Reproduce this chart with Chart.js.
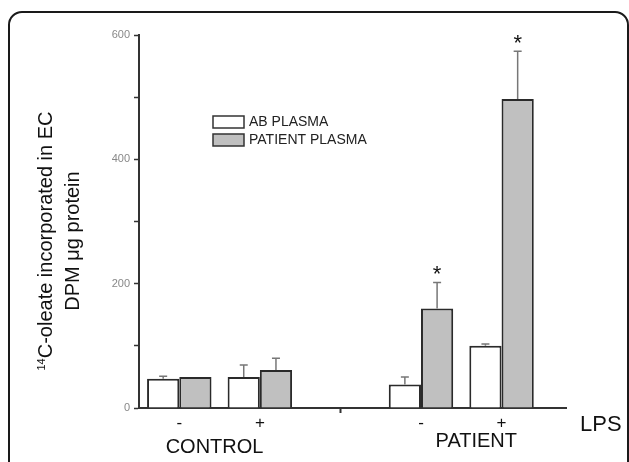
<!DOCTYPE html>
<html>
<head>
<meta charset="utf-8">
<script src="https://cdn.jsdelivr.net/npm/chart.js@4.4.1/dist/chart.umd.min.js"></script>
<style>
  html, body { margin: 0; padding: 0; background: #fff; overflow: hidden; }
  #wrap { position: relative; width: 629px; height: 462px; }
  #frame { position: absolute; left: 8px; top: 11px; width: 621px; height: 520px; box-sizing: border-box;
           border: 2px solid #1a1a1a; border-radius: 14px 14px 0 0; }
  #chart { position: absolute; left: 0; top: 0; }
</style>
</head>
<body>
<div id="wrap">
  <div id="frame"></div>
  <canvas id="chart" width="629" height="462"></canvas>
</div>
<script>
// LPS -/+ under each bar pair; "" is the empty slot between CONTROL and PATIENT
const lpsLabels = ["-", "+", "", "-", "+"];
const groupNames = ["CONTROL", "PATIENT"];
const abPlasma = [47, 50, null, 38, 100];
const abPlasmaErr = [4, 19, null, 12, 3];
const patientPlasma = [50, 61, null, 160, 497];
const patientPlasmaErr = [0, 19, null, 42, 77];
const patientSignificant = [false, false, false, true, true];

const FONT = '"Liberation Sans", Arial, sans-serif';

// bars sit at x = 1..5 on a linear axis, the gap slot is skipped
function toPoints(values) {
  return values.map((v, i) => ({ x: i + 1, y: v, i })).filter((p) => p.y !== null);
}

const extras = {
  id: "extras",
  afterDatasetsDraw(chart) {
    const { ctx, scales: { y } } = chart;
    ctx.save();
    chart.data.datasets.forEach((ds, d) => {
      const meta = chart.getDatasetMeta(d);
      meta.data.forEach((bar, j) => {
        const p = ds.data[j];
        const err = ds.errors[p.i];
        const top = y.getPixelForValue(p.y + err);
        if (err > 0) {
          // upper half of the error bar only
          ctx.strokeStyle = "#777";
          ctx.lineWidth = 1.5;
          ctx.beginPath();
          ctx.moveTo(bar.x, bar.y);
          ctx.lineTo(bar.x, top);
          ctx.moveTo(bar.x - 4, top);
          ctx.lineTo(bar.x + 4, top);
          ctx.stroke();
        }
        if (ds.stars && ds.stars[p.i]) {
          ctx.fillStyle = "#111";
          ctx.font = "22px " + FONT;
          ctx.textAlign = "center";
          ctx.textBaseline = "alphabetic";
          ctx.fillText("*", bar.x, top - 1);
        }
      });
    });
    ctx.restore();
  },
  afterDraw(chart) {
    const { ctx, scales: { x }, chartArea } = chart;
    ctx.save();

    // legend inside the plot
    chart.data.datasets.forEach((ds, k) => {
      const bx = chartArea.left + 74;
      const by = chartArea.top + 81 + k * 18;
      ctx.fillStyle = ds.backgroundColor;
      ctx.fillRect(bx, by, 31, 12);
      ctx.strokeStyle = "#333";
      ctx.lineWidth = 1.5;
      ctx.strokeRect(bx, by, 31, 12);
      ctx.fillStyle = "#222";
      ctx.font = "14px " + FONT;
      ctx.textAlign = "left";
      ctx.textBaseline = "middle";
      ctx.fillText(ds.label, bx + 36, by + 6.5);
    });

    // y title, two lines, with a superscript 14
    ctx.save();
    ctx.translate(45, 241);
    ctx.rotate(-Math.PI / 2);
    ctx.fillStyle = "#111";
    ctx.textBaseline = "alphabetic";
    const main = "C-oleate incorporated in EC";
    ctx.font = "20px " + FONT;
    const wMain = ctx.measureText(main).width;
    ctx.font = "11px " + FONT;
    const wSup = ctx.measureText("14").width;
    const sx = -(wMain + wSup) / 2;
    ctx.textAlign = "left";
    ctx.fillText("14", sx, 0);
    ctx.font = "20px " + FONT;
    ctx.fillText(main, sx + wSup, 7);
    ctx.textAlign = "center";
    ctx.fillText("DPM \u03bcg protein", 0, 34);
    ctx.restore();

    // group names under the LPS signs
    ctx.fillStyle = "#111";
    ctx.font = "20px " + FONT;
    ctx.textAlign = "center";
    ctx.textBaseline = "middle";
    const nudges = [[-5, 447], [15, 441]];
    let g = 0, start = 0;
    lpsLabels.concat([""]).forEach((lab, i) => {
      if (lab === "") {
        if (i > start) {
          const cx = (x.getPixelForValue(start + 1) + x.getPixelForValue(i)) / 2;
          ctx.fillText(groupNames[g], cx + nudges[g][0], nudges[g][1]);
          g++;
        }
        start = i + 1;
      }
    });

    ctx.font = "22px " + FONT;
    ctx.textAlign = "left";
    ctx.fillText("LPS", chartArea.right + 14, 425);
    ctx.restore();
  },
};

new Chart(document.getElementById("chart"), {
  type: "bar",
  data: {
    datasets: [
      {
        label: "AB PLASMA",
        data: toPoints(abPlasma),
        errors: abPlasmaErr,
        backgroundColor: "#ffffff",
        borderColor: "#2a2a2a",
        borderWidth: 2,
        categoryPercentage: 0.8,
        barPercentage: 1.0,
      },
      {
        label: "PATIENT PLASMA",
        data: toPoints(patientPlasma),
        errors: patientPlasmaErr,
        stars: patientSignificant,
        backgroundColor: "#c0c0c0",
        borderColor: "#2a2a2a",
        borderWidth: 2,
        categoryPercentage: 0.8,
        barPercentage: 1.0,
      },
    ],
  },
  options: {
    responsive: false,
    animation: false,
    layout: { padding: { top: 35, right: 63, left: 0, bottom: 0 } },
    plugins: { legend: { display: false }, tooltip: { enabled: false } },
    scales: {
      x: {
        type: "linear",
        offset: false,
        min: 0.5,
        max: 5.8,
        afterBuildTicks: (s) => {
          s.ticks = lpsLabels.map((_, i) => ({ value: i + 1 }));
        },
        afterFit: (s) => {
          s.height = 54;
        },
        ticks: {
          callback: (v) => lpsLabels[v - 1],
          font: { size: 17, family: FONT },
          color: "#111",
          padding: 0,
          autoSkip: false,
          maxRotation: 0,
        },
        grid: {
          offset: false,
          drawOnChartArea: false,
          tickLength: 5,
          tickWidth: 2,
          tickColor: (c) => (c.tick && lpsLabels[c.tick.value - 1] === "" ? "#333" : "rgba(0,0,0,0)"),
        },
        border: { color: "#333", width: 2 },
      },
      y: {
        min: 0,
        max: 600,
        afterFit: (s) => {
          s.width = 139;
        },
        ticks: {
          stepSize: 100,
          callback: (v) => (v % 200 === 0 ? v : ""),
          font: { size: 11, family: FONT },
          color: "#888",
          padding: 4,
        },
        grid: { drawOnChartArea: false, tickLength: 5, tickWidth: 1.5, tickColor: "#333" },
        border: { color: "#333", width: 2 },
      },
    },
  },
  plugins: [extras],
});
</script>
</body>
</html>
